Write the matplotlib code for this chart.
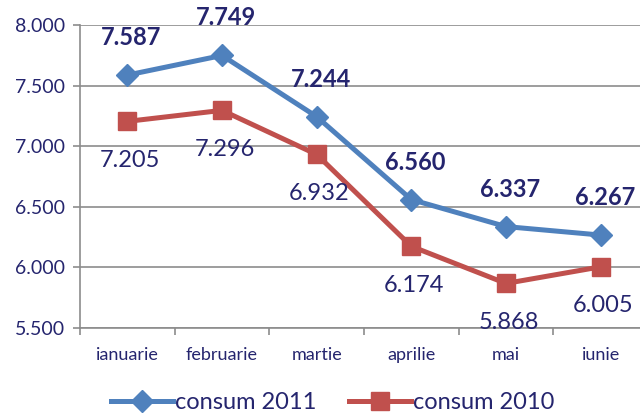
import matplotlib.pyplot as plt
from matplotlib.ticker import FuncFormatter

# Data
luni = ['ianuarie', 'februarie', 'martie', 'aprilie', 'mai', 'iunie']
consum_2011 = [7587, 7749, 7244, 6560, 6337, 6267]
consum_2010 = [7205, 7296, 6932, 6174, 5868, 6005]

albastru = '#4F81BD'
rosu = '#C0504D'
text_col = '#25256E'
gri = '#8C8C8C'

plt.rcParams['font.family'] = ['Lato', 'DejaVu Sans']

fig = plt.figure(figsize=(6.4, 4.2), dpi=100)
ax = fig.add_axes([0.125, 0.219, 0.8875, 0.7214])

x = list(range(len(luni)))
ax.plot(x, consum_2011, color=albastru, lw=3.6, marker='D', ms=11, label='consum 2011', zorder=3)
ax.plot(x, consum_2010, color=rosu, lw=3.6, marker='s', ms=13, label='consum 2010', zorder=3)

def fmt(v):
    return f'{v:,.0f}'.replace(',', '.')

for i, v in enumerate(consum_2011):
    ax.annotate(fmt(v), (i, v), xytext=(3, 27), textcoords='offset points',
                ha='center', va='center', fontsize=17, fontweight='bold', color=text_col)
for i, v in enumerate(consum_2010):
    ax.annotate(fmt(v), (i, v), xytext=(2, -28), textcoords='offset points',
                ha='center', va='center', fontsize=17, color=text_col)

ax.set_xlim(-0.5, 5.5)
ax.set_ylim(5500, 8000)
ax.set_yticks([5500, 6000, 6500, 7000, 7500, 8000])
ax.yaxis.set_major_formatter(FuncFormatter(lambda v, p: fmt(v)))
ax.set_xticks(x)
ax.set_xticklabels(luni)
ax.set_xticks([i - 0.5 for i in range(len(luni) + 1)], minor=True)
ax.tick_params(axis='x', which='major', length=0, pad=14, labelsize=13, labelcolor=text_col)
ax.tick_params(axis='x', which='minor', length=5, color=gri, width=1.2)
ax.tick_params(axis='y', length=5, color=gri, width=1.2, labelsize=14, labelcolor=text_col, pad=6)

ax.grid(axis='y', color=gri, lw=1.2)
ax.set_axisbelow(True)
for s in ['top', 'right']:
    ax.spines[s].set_visible(False)
for s in ['left', 'bottom']:
    ax.spines[s].set_color(gri)
    ax.spines[s].set_linewidth(1.2)
ax.patch.set_alpha(0)

leg = fig.legend(loc='lower center', bbox_to_anchor=(0.52, -0.035), ncol=2, frameon=False,
                 fontsize=17, handlelength=2.6, handletextpad=0.1, columnspacing=1.4)
for t in leg.get_texts():
    t.set_color(text_col)

fig.savefig('out.png', dpi=100)
